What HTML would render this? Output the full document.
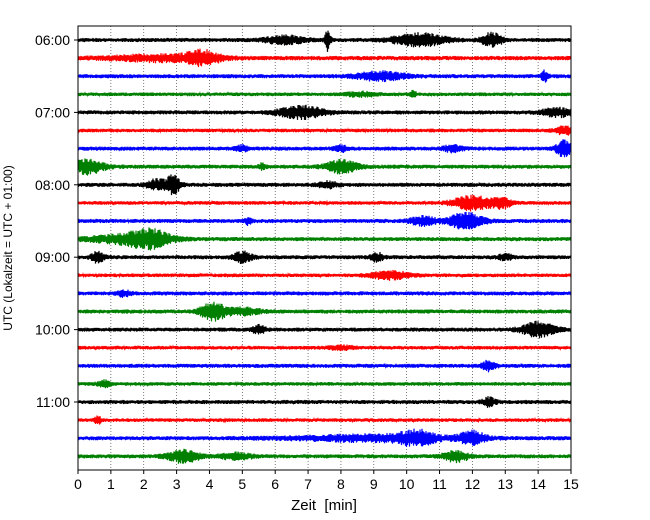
<!DOCTYPE html>
<html><head><meta charset="utf-8"><style>
body{margin:0;background:#fff}
svg{display:block;font-family:"Liberation Sans","DejaVu Sans",sans-serif}
</style></head><body>
<svg id="chart" width="650" height="520" viewBox="0 0 650 520">
<rect x="0" y="0" width="650" height="520" fill="#fff"/>
<g id="grid"></g>
<g id="traces"></g>
<rect x="78" y="26" width="493" height="444" fill="none" stroke="#000" stroke-width="1"/>
<g id="axes"></g>
<text x="324" y="510" font-size="15" text-anchor="middle" xml:space="preserve">Zeit  [min]</text>
<text transform="translate(12,248) rotate(-90)" font-size="12" text-anchor="middle">UTC (Lokalzeit = UTC + 01:00)</text>
</svg>
<script>
const xTicks=[0,1,2,3,4,5,6,7,8,9,10,11,12,13,14,15];
const hourLabels=["06:00","07:00","08:00","09:00","10:00","11:00"];
const rowColors=["#000","#f00","#00f","#008000"];
const baseAmp=[2,2.2,2,1.8,2,1.8,2,2,2,1.8,2,2,2,1.8,2,2,2,1.8,2,1.8,2,1.8,2,2];
// events per row: [minute, amplitude px, width min]
const events=[
 [[6.3,4,0.6],[7.6,10,0.08],[10.4,6,0.8],[12.6,7,0.3]],
 [[3.8,6,0.5],[2.5,3,1.5]],
 [[9.2,4,0.8],[14.2,5,0.1]],
 [[10.2,3,0.1],[8.6,2,0.5]],
 [[6.8,6,0.7],[14.6,4,0.5]],
 [[14.8,4,0.3]],
 [[14.8,8,0.25],[5,3,0.2],[8,3,0.2],[11.4,3,0.3]],
 [[0.3,7,0.5],[8,6,0.5],[5.6,3,0.1]],
 [[2.9,10,0.2],[2.4,5,0.3],[7.6,3,0.3]],
 [[12,7,0.6],[12.9,5,0.3]],
 [[11.8,8,0.5],[5.2,4,0.1],[10.5,4,0.4]],
 [[2.2,7,0.6],[1.5,4,1.2]],
 [[0.6,5,0.2],[5,5,0.3],[9.1,4,0.2],[13,3,0.2]],
 [[9.5,4,0.6]],
 [[1.4,3,0.2]],
 [[4.1,8,0.4],[5,3,0.6]],
 [[5.5,4,0.2],[14,7,0.5]],
 [[8,2,0.4]],
 [[12.5,5,0.2]],
 [[0.8,3,0.2]],
 [[12.5,4,0.2]],
 [[0.6,4,0.1]],
 [[10.3,6,0.5],[12,6,0.4],[9,3,2.5]],
 [[3.2,6,0.5],[11.5,5,0.4],[4.8,3,0.5]]
];
const NS="http://www.w3.org/2000/svg";
const X0=78,X1=571,Y0=26,Y1=470,ROW0=40,ROWH=18.1;
const xs=m=>X0+(m/15)*(X1-X0);
const ys=i=>ROW0+i*ROWH;
// deterministic texture (styling only)
const tex=(k,i)=>{const v=Math.sin(k*12.9898+i*78.233)*43758.5453;return v-Math.floor(v);};
const grid=document.getElementById('grid'),axes=document.getElementById('axes'),tr=document.getElementById('traces');
xTicks.forEach(t=>{
 if(t>0&&t<15){const l=document.createElementNS(NS,'line');
 
 
 l.setAttribute('x1',xs(t));l.setAttribute('x2',xs(t));l.setAttribute('y1',Y0);l.setAttribute('y2',Y1);
 l.setAttribute('stroke','#444');l.setAttribute('stroke-width','0.7');l.setAttribute('stroke-dasharray','1,2');grid.appendChild(l);}
 const tk=document.createElementNS(NS,'line');
 
 
 tk.setAttribute('x1',xs(t));tk.setAttribute('x2',xs(t));tk.setAttribute('y1',Y1);tk.setAttribute('y2',Y1+4);tk.setAttribute('stroke','#000');axes.appendChild(tk);
 const tx=document.createElementNS(NS,'text');
 
 
 tx.setAttribute('x',xs(t));tx.setAttribute('y',Y1+19);tx.setAttribute('font-size','14');tx.setAttribute('text-anchor','middle');tx.textContent=t;axes.appendChild(tx);
});
hourLabels.forEach((h,k)=>{
 const y=ys(k*4);
 const tk=document.createElementNS(NS,'line');
 
 
 tk.setAttribute('x1',X0-4);tk.setAttribute('x2',X0);tk.setAttribute('y1',y);tk.setAttribute('y2',y);tk.setAttribute('stroke','#000');axes.appendChild(tk);
 const tx=document.createElementNS(NS,'text');
 
 
 tx.setAttribute('x',X0-8);tx.setAttribute('y',y+5);tx.setAttribute('font-size','14');tx.setAttribute('text-anchor','end');tx.textContent=h;axes.appendChild(tx);
});
events.forEach((ev,i)=>{
 const y=ys(i);let d='';
 for(let k=0;k<=(X1-X0)*2;k++){
  const px=X0+k/2,m=(px-X0)/(X1-X0)*15;
  let a=baseAmp[i];
  ev.forEach(e=>{const z=(m-e[0])/e[2];a+=e[1]*Math.exp(-z*z);});
  const s=(k%2?1:-1)*(0.45+0.55*tex(k,i));
  d+=(k?'L':'M')+px.toFixed(1)+','+(y+a*s).toFixed(1);
 }
 const p=document.createElementNS(NS,'path');
 
 
 p.setAttribute('d',d);p.setAttribute('fill','none');p.setAttribute('stroke',rowColors[i%4]);p.setAttribute('stroke-width','1.2');
 tr.appendChild(p);
});
</script>
</body></html>
